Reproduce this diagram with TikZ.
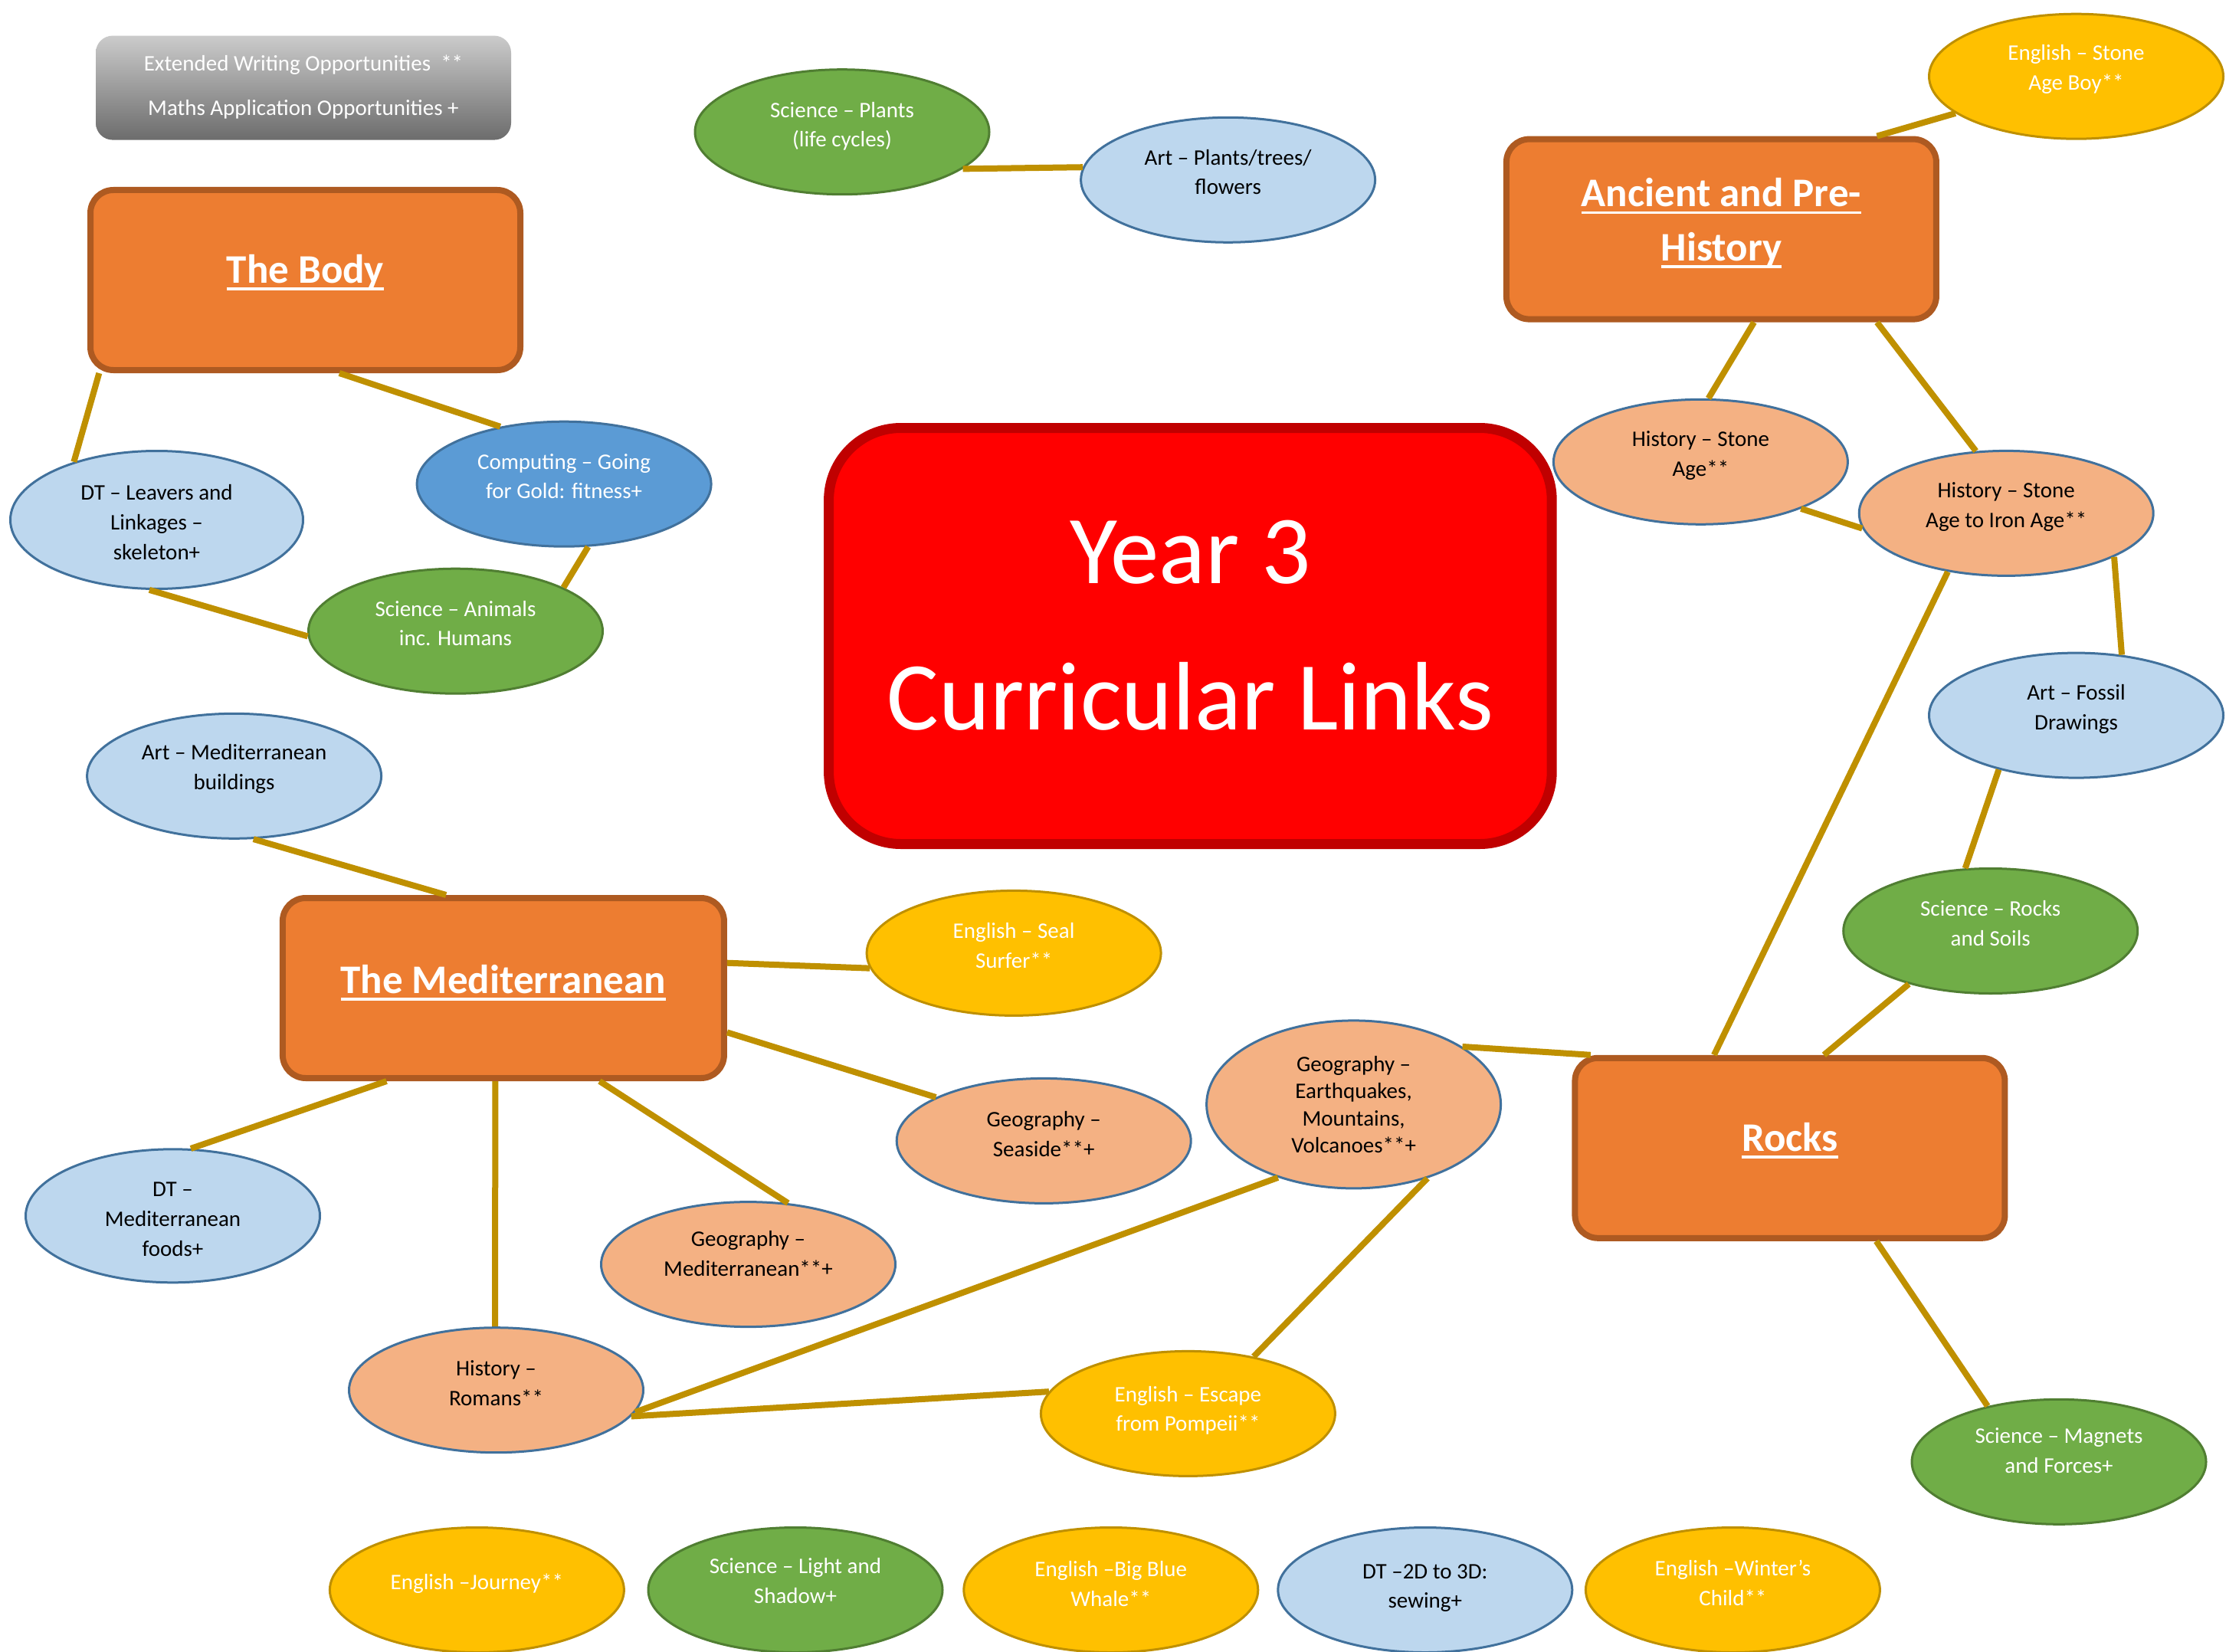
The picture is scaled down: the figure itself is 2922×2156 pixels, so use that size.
\documentclass[tikz,border=0pt]{standalone}
\usepackage{fontspec}
\setmainfont{Carlito}
\usetikzlibrary{shapes.geometric,calc}
\definecolor{yel}{HTML}{FFC000}
\definecolor{yelB}{HTML}{BF9000}
\definecolor{grn}{HTML}{70AD47}
\definecolor{grnB}{HTML}{507E32}
\definecolor{lblue}{HTML}{BDD7EE}
\definecolor{mblue}{HTML}{5B9BD5}
\definecolor{blueB}{HTML}{41719C}
\definecolor{peach}{HTML}{F4B183}
\definecolor{orng}{HTML}{ED7D31}
\definecolor{orngB}{HTML}{AE5A21}
\definecolor{redF}{HTML}{FF0000}
\definecolor{redB}{HTML}{C00000}
\definecolor{connc}{HTML}{BF9000}
\definecolor{legTop}{HTML}{CBCBCB}
\definecolor{legBot}{HTML}{6C6C6C}
\newsavebox\hdbox
\newsavebox\txbox
% underlined heading text
\newcommand\hd[1]{\sbox\hdbox{#1}\rlap{\rule[-4.7pt]{\wd\hdbox}{1.85pt}}\usebox\hdbox}
% centred lines, raised by an optional amount inside their node
\newcommand\tx[2][4pt]{\sbox\txbox{\begin{tabular}{@{}c@{}}#2\end{tabular}}\raisebox{#1}[\ht\txbox][\dp\txbox]{\usebox\txbox}}
\begin{document}
\begin{tikzpicture}[x=0.5pt,y=-0.5pt,
  oval/.style={ellipse, minimum width=192pt, minimum height=81.5pt, inner sep=0pt, line width=1.5pt, font=\fontsize{14.5}{19.4}\selectfont},
  eng/.style={oval, fill=yel, draw=yelB, text=white},
  sci/.style={oval, fill=grn, draw=grnB, text=white},
  art/.style={oval, fill=lblue, draw=blueB, text=black},
  comp/.style={oval, fill=mblue, draw=blueB, text=white},
  hum/.style={oval, fill=peach, draw=blueB, text=black},
  topic/.style={rectangle, rounded corners=15pt, fill=orng, draw=orngB, line width=4pt, minimum width=280.5pt, minimum height=117.5pt, inner sep=0pt, text=white, font=\fontsize{26.5}{35.4}\selectfont\bfseries},
  conn/.style={draw=connc, line width=4pt},
]
\useasboundingbox (0,0) rectangle (2922,2156);
\clip (0,0) rectangle (2922,2156);

% legend
\node[rectangle, rounded corners=11pt, top color=legTop, bottom color=legBot, minimum width=271pt, minimum height=68pt, inner sep=0pt, text=white, font=\fontsize{14.5}{29}\selectfont] (legend) at (396,114.6) {\tx[2.5pt]{Extended Writing Opportunities\ \ **\\Maths Application Opportunities +}};

% central title
\node[rectangle, rounded corners=47pt, fill=redF, draw=redB, line width=6.5pt, minimum width=471.8pt, minimum height=271.5pt, inner sep=0pt, text=white, font=\fontsize{63.5}{95.5}\selectfont] (year) at (1553.4,830) {\tx[5.85pt]{Year 3\\Curricular Links}};

% topic boxes
\node[topic] (body) at (398.5,365.5) {\tx[5pt]{\hd{The Body}}};
\node[topic] (anc) at (2246.4,299.1) {\tx[4pt]{\hd{Ancient and Pre-}\\\hd{History}}};
\node[topic] (rocks) at (2335.9,1498.3) {\tx[5pt]{\hd{Rocks}}};
\node[topic, minimum width=288pt] (med) at (656.9,1289.5) {\tx[3.6pt]{\hd{The Mediterranean}}};

% ellipses
\node[sci] (plants) at (1099,172.2) {\tx[3.75pt]{Science – Plants\\(life cycles)}};
\node[art] (artplants) at (1602.6,234.8) {\tx{Art – Plants/trees/\\flowers}};
\node[eng] (boy) at (2709.5,99.7) {\tx[4.9pt]{English – Stone\\Age Boy**}};
\node[hum] (stone) at (2219.4,602.8) {\tx[4.4pt]{History – Stone\\Age**}};
\node[hum] (iron) at (2618.2,669.9) {\tx[4.4pt]{History – Stone\\Age to Iron Age**}};
\node[art] (fossil) at (2709.5,933.6) {\tx{Art – Fossil\\Drawings}};
\node[sci] (soils) at (2597.7,1215.0) {\tx{Science – Rocks\\and Soils}};
\node[sci] (magnets) at (2687,1907.8) {\tx[6.3pt]{Science – Magnets\\and Forces+}};
\node[hum, minimum height=109.5pt, font=\fontsize{14.5}{17.7}\selectfont] (quake) at (1766.6,1441.4) {\tx[-1.5pt]{Geography –\\Earthquakes,\\Mountains,\\Volcanoes**+}};
\node[eng] (seal) at (1323.1,1243.9) {\tx{English – Seal\\Surfer**}};
\node[hum] (seaside) at (1362.2,1488.9) {\tx[3.5pt]{Geography –\\Seaside**+}};
\node[hum] (geomed) at (976.5,1650.1) {\tx[5.8pt]{Geography –\\Mediterranean**+}};
\node[hum] (romans) at (647.5,1814.2) {\tx[3.4pt]{History –\\Romans**}};
\node[eng] (pompeii) at (1550.4,1844.9) {\tx[2.1pt]{English – Escape\\from Pompeii**}};
\node[art, minimum height=87pt] (foods) at (225.5,1586.8) {\tx[-3pt]{DT –\\Mediterranean\\foods+}};
\node[art] (medbuild) at (305.6,1012.8) {\tx[4.9pt]{Art – Mediterranean\\buildings}};
\node[sci] (animals) at (594.5,823.7) {\tx{Science – Animals\\inc. Humans}};
\node[art, minimum width=191pt, minimum height=90pt] (leavers) at (204.5,678.5) {\tx[-2.6pt]{DT – Leavers and\\Linkages –\\skeleton+}};
\node[comp] (computing) at (736.1,631.7) {\tx{Computing – Going\\for Gold: fitness+}};

% bottom row
\node[eng] (journey) at (622.4,2075) {\tx{English –Journey**}};
\node[sci] (light) at (1038,2075) {\tx[4.9pt]{Science – Light and\\Shadow+}};
\node[eng] (whale) at (1449.8,2075) {\tx[3pt]{English –Big Blue\\Whale**}};
\node[art] (sewing) at (1859.8,2075) {\tx[1.6pt]{DT –2D to 3D:\\sewing+}};
\node[eng] (winter) at (2261.4,2075) {\tx[3.5pt]{English –Winter’s\\Child**}};

% connectors
\draw[conn] (plants.-17) -- (artplants.175);
\draw[conn] (boy.197) -- ($(anc.north west)!0.857!(anc.north east)$);
\draw[conn] ($(anc.south west)!0.575!(anc.south east)$) -- (stone.83);
\draw[conn] ($(anc.south west)!0.857!(anc.south east)$) -- (iron.116);
\draw[conn] (stone.-25) -- (iron.186);
\draw[conn] (iron.-22) -- (fossil.53);
\draw[conn] (fossil.215) -- (soils.112);
\draw[conn] (soils.213) -- ($(rocks.north west)!0.578!(rocks.north east)$);
\draw[conn] (iron.225) -- ($(rocks.north west)!0.326!(rocks.north east)$);
\draw[conn] (quake.28) -- ($(rocks.north west)!0.043!(rocks.north east)$);
\draw[conn] ($(rocks.south west)!0.698!(rocks.south east)$) -- (magnets.142);
\draw[conn] (quake.224) -- (romans.-9);
\draw[conn] (quake.-45) -- (pompeii.41);
\draw[conn] (pompeii.171) -- (romans.-11);
\draw[conn] ($(med.south west)!0.482!(med.south east)$) -- (romans.91);
\draw[conn] ($(med.south west)!0.715!(med.south east)$) -- (geomed.57);
\draw[conn] ($(med.north east)!0.738!(med.south east)$) -- (seaside.158);
\draw[conn] ($(med.north east)!0.365!(med.south east)$) -- (seal.186);
\draw[conn] ($(med.south west)!0.239!(med.south east)$) -- (foods.75);
\draw[conn] (medbuild.-73) -- ($(med.north west)!0.372!(med.north east)$);
\draw[conn] (leavers.145) -- ($(body.south west)!0.027!(body.south east)$);
\draw[conn] ($(body.south west)!0.578!(body.south east)$) -- (computing.138);
\draw[conn] (computing.-69) -- (animals.22);
\draw[conn] (leavers.-96) -- (animals.182);
\end{tikzpicture}
\end{document}
